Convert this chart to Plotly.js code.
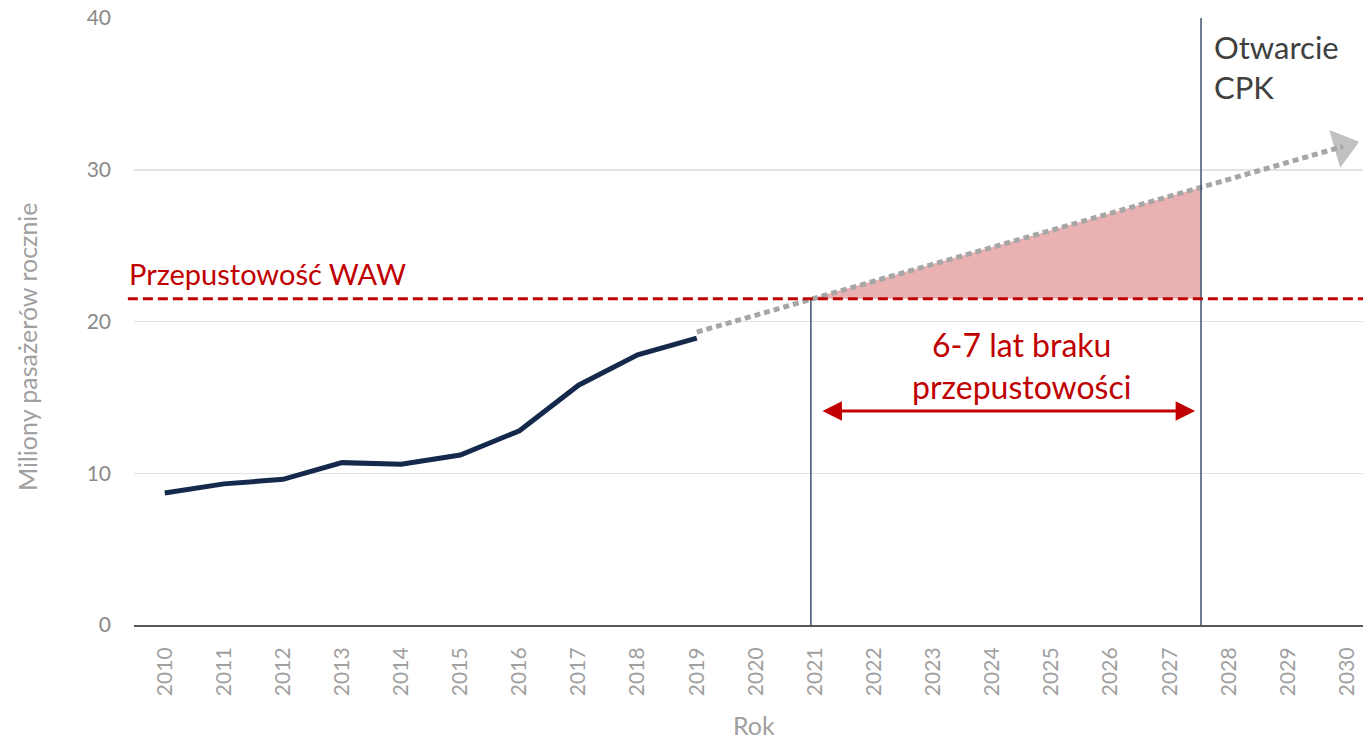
<!DOCTYPE html>
<html>
<head>
<meta charset="utf-8">
<script src="https://cdn.plot.ly/plotly-3.0.1.min.js"></script>
<style>html,body{margin:0;padding:0;background:#fff;}#chart{width:1363px;height:739px;}</style>
</head>
<body>
<div id="chart"></div>
<script>
// --- data ---
const years = [2010, 2011, 2012, 2013, 2014, 2015, 2016, 2017, 2018, 2019];
const passengers = [8.7, 9.3, 9.6, 10.7, 10.6, 11.2, 12.8, 15.8, 17.8, 18.9];
const forecastYears = [2019, 2029.93];
const forecastValues = [19.3, 31.53];
const capacityWAW = 21.5;
const gapStartYear = 2020.93;
const cpkOpeningYear = 2027.53;
const tickYears = [2010,2011,2012,2013,2014,2015,2016,2017,2018,2019,2020,2021,2022,2023,2024,2025,2026,2027,2028,2029,2030];
const yTicks = [0, 10, 20, 30, 40];
const labelCapacity = 'Przepustowość WAW';
const labelGap = '6-7 lat braku<br>przepustowości';
const labelCPK = 'Otwarcie<br>CPK';

function forecastAt(x) {
  const t = (x - forecastYears[0]) / (forecastYears[1] - forecastYears[0]);
  return forecastValues[0] + t * (forecastValues[1] - forecastValues[0]);
}

const RED = '#c00000';
const NAVY = '#3f5070';
const FONT = 'Lato, "Open Sans", sans-serif';

const traces = [
  { // shaded deficit
    x: [gapStartYear, cpkOpeningYear, cpkOpeningYear, gapStartYear],
    y: [capacityWAW, forecastAt(cpkOpeningYear), capacityWAW, capacityWAW],
    mode: 'lines', fill: 'toself', fillcolor: '#e9b1b1',
    line: {width: 0}, hoverinfo: 'skip', showlegend: false
  },
  { // forecast dotted
    x: forecastYears, y: forecastValues, mode: 'lines',
    line: {color: '#a6a6a6', width: 5, dash: '6px,4px'},
    hoverinfo: 'skip', showlegend: false
  },
  { // arrowhead
    x: forecastYears, y: forecastValues, mode: 'markers', cliponaxis: false,
    marker: {symbol: 'triangle-up', size: [0, 34], color: '#a6a6a6', angleref: 'previous', line: {width: 0}},
    hoverinfo: 'skip', showlegend: false
  },
  { // actual
    x: years, y: passengers, mode: 'lines',
    line: {color: '#14294b', width: 5},
    showlegend: false
  }
];

const layout = {
  width: 1363, height: 739,
  margin: {l: 134, r: 0, t: 18, b: 114},
  paper_bgcolor: '#fff', plot_bgcolor: '#fff',
  font: {family: FONT},
  showlegend: false,
  xaxis: {
    range: [2009.48, 2030.27],
    tickvals: tickYears, ticktext: tickYears.map(String),
    tickangle: -90, ticks: '',
    tickfont: {size: 21, color: '#a0a0a0', family: FONT},
    ticklabelstandoff: 12,
    showgrid: false, zeroline: false,
    showline: true, linecolor: '#595959', linewidth: 2
  },
  yaxis: {
    range: [0, 40],
    tickvals: yTicks, ticks: '',
    tickfont: {size: 21, color: '#8a8a8a', family: FONT},
    ticklabelstandoff: 22,
    showgrid: true, gridcolor: '#e3e3e3', gridwidth: 1.5,
    zeroline: false, showline: false
  },
  shapes: [
    {type: 'line', xref: 'x', yref: 'y', x0: gapStartYear, x1: gapStartYear, y0: 0, y1: capacityWAW,
     line: {color: NAVY, width: 1.5}},
    {type: 'line', xref: 'x', yref: 'y', x0: cpkOpeningYear, x1: cpkOpeningYear, y0: 0, y1: 40,
     line: {color: NAVY, width: 1.5}},
    {type: 'line', xref: 'paper', yref: 'y', x0: -0.005, x1: 1, y0: capacityWAW, y1: capacityWAW,
     line: {color: RED, width: 3, dash: '10px,5px'}}
  ],
  annotations: [
    {xref: 'paper', yref: 'y', x: -0.006, y: capacityWAW + 1.65, xanchor: 'left', yanchor: 'middle',
     text: labelCapacity, showarrow: false, font: {size: 29, color: RED, family: FONT}},
    {xref: 'x', yref: 'y', x: 2024.5, y: 17.1, xanchor: 'center', yanchor: 'middle',
     text: labelGap, showarrow: false, font: {size: 32, color: RED, family: FONT}},
    {xref: 'x', yref: 'y', x: 2027.43, y: 14.1, ax: 2021.1, ay: 14.1, axref: 'x', ayref: 'y',
     text: '', showarrow: true, arrowhead: 2, arrowside: 'end+start', arrowsize: 1.3, arrowwidth: 3, arrowcolor: RED},
    {xref: 'x', yref: 'y', x: 2027.72, y: 36.8, xanchor: 'left', yanchor: 'middle', align: 'left',
     text: labelCPK, showarrow: false, font: {size: 31, color: '#404040', family: FONT}},
    {xref: 'paper', yref: 'paper', x: -0.087, y: 0.458, xanchor: 'center', yanchor: 'middle', textangle: -90,
     text: 'Miliony pasażerów rocznie', showarrow: false, font: {size: 25, color: '#a0a0a0', family: FONT}},
    {xref: 'paper', yref: 'paper', x: 0.5048, y: -0.165, xanchor: 'center', yanchor: 'middle',
     text: 'Rok', showarrow: false, font: {size: 25, color: '#a0a0a0', family: FONT}}
  ]
};

Plotly.newPlot('chart', traces, layout, {displayModeBar: false, staticPlot: true});
</script>
</body>
</html>
